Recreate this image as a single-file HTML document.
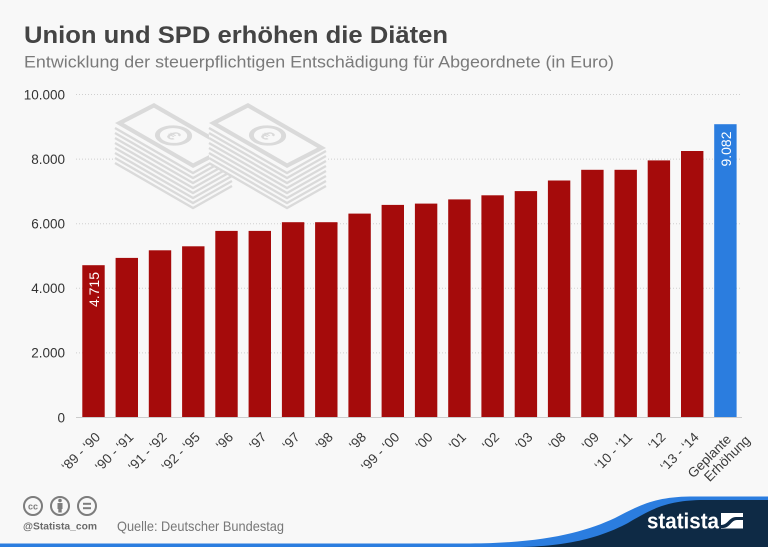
<!DOCTYPE html>
<html><head><meta charset="utf-8"><style>
html,body{margin:0;padding:0;background:#f8f8f8;}
svg{display:block;font-family:"Liberation Sans",sans-serif;}
</style></head><body>
<svg width="768" height="547" viewBox="0 0 768 547" xmlns="http://www.w3.org/2000/svg">
<rect width="768" height="547" fill="#f8f8f8"/>
<text x="24" y="43" font-size="24" font-weight="bold" fill="#444" textLength="424" lengthAdjust="spacingAndGlyphs">Union und SPD erhöhen die Diäten</text>
<text x="24" y="67.5" font-size="16.5" fill="#7a7a7a" textLength="590" lengthAdjust="spacingAndGlyphs">Entwicklung der steuerpflichtigen Entschädigung für Abgeordnete (in Euro)</text>

<g stroke="#cfcfcf" stroke-width="1" stroke-dasharray="1,2">
<line x1="76" y1="94.5" x2="742" y2="94.5"/>
<line x1="76" y1="159.1" x2="742" y2="159.1"/>
<line x1="76" y1="223.7" x2="742" y2="223.7"/>
<line x1="76" y1="288.3" x2="742" y2="288.3"/>
<line x1="76" y1="352.9" x2="742" y2="352.9"/>
</g>
<g font-size="13.5" fill="#333" text-anchor="end">
<text x="65" y="99.3">10.000</text>
<text x="65" y="163.9">8.000</text>
<text x="65" y="228.5">6.000</text>
<text x="65" y="293.1">4.000</text>
<text x="65" y="357.7">2.000</text>
<text x="65" y="422.3">0</text>
</g>

<!-- money stacks -->
<g id="stack1">
<polygon points="115,123 154,103 232,148 232,188 193,208 115,163" fill="#f8f8f8"/>
<g fill="none" stroke="#dadada" stroke-width="2.4">
<polyline points="115,128 193,173 232,151"/>
<polyline points="115,133 193,178 232,156"/>
<polyline points="115,138 193,183 232,161"/>
<polyline points="115,143 193,188 232,166"/>
<polyline points="115,148 193,193 232,171"/>
<polyline points="115,153 193,198 232,176"/>
<polyline points="115,158 193,203 232,181"/>
<polyline points="115,163 193,208 232,186"/>
</g>
<g transform="matrix(0.867,0.5,-0.886,0.4545,154,103)">
<rect x="0" y="0" width="90" height="44" fill="#dadada"/>
<rect x="5" y="5" width="80" height="34" fill="#f8f8f8"/>
<circle cx="45" cy="22" r="13" fill="#f8f8f8" stroke="#dadada" stroke-width="4"/>
<text x="45" y="28" font-size="17" font-weight="bold" fill="#dadada" text-anchor="middle">€</text>
</g>
</g>
<g transform="translate(94,0)">
<polygon points="115,123 154,103 232,148 232,188 193,208 115,163" fill="#f8f8f8"/>
<g fill="none" stroke="#dadada" stroke-width="2.4">
<polyline points="115,128 193,173 232,151"/>
<polyline points="115,133 193,178 232,156"/>
<polyline points="115,138 193,183 232,161"/>
<polyline points="115,143 193,188 232,166"/>
<polyline points="115,148 193,193 232,171"/>
<polyline points="115,153 193,198 232,176"/>
<polyline points="115,158 193,203 232,181"/>
<polyline points="115,163 193,208 232,186"/>
</g>
<g transform="matrix(0.867,0.5,-0.886,0.4545,154,103)">
<rect x="0" y="0" width="90" height="44" fill="#dadada"/>
<rect x="5" y="5" width="80" height="34" fill="#f8f8f8"/>
<circle cx="45" cy="22" r="13" fill="#f8f8f8" stroke="#dadada" stroke-width="4"/>
<text x="45" y="28" font-size="17" font-weight="bold" fill="#dadada" text-anchor="middle">€</text>
</g>
</g>

<!-- bars -->
<g fill="#a50b0b">
<rect x="82.3" y="265.2" width="22.4" height="152.3"/>
<rect x="115.6" y="257.9" width="22.4" height="159.6"/>
<rect x="148.8" y="250.3" width="22.4" height="167.2"/>
<rect x="182.1" y="246.3" width="22.4" height="171.2"/>
<rect x="215.3" y="230.9" width="22.4" height="186.6"/>
<rect x="248.6" y="230.9" width="22.4" height="186.6"/>
<rect x="281.9" y="222.2" width="22.4" height="195.3"/>
<rect x="315.1" y="222.2" width="22.4" height="195.3"/>
<rect x="348.4" y="213.6" width="22.4" height="203.9"/>
<rect x="381.6" y="204.9" width="22.4" height="212.6"/>
<rect x="414.9" y="203.6" width="22.4" height="213.9"/>
<rect x="448.2" y="199.4" width="22.4" height="218.1"/>
<rect x="481.4" y="195.3" width="22.4" height="222.2"/>
<rect x="514.7" y="191.1" width="22.4" height="226.4"/>
<rect x="547.9" y="180.5" width="22.4" height="237.0"/>
<rect x="581.2" y="169.8" width="22.4" height="247.7"/>
<rect x="614.5" y="169.8" width="22.4" height="247.7"/>
<rect x="647.7" y="160.4" width="22.4" height="257.1"/>
<rect x="681.0" y="151.0" width="22.4" height="266.5"/>
</g>
<rect x="714.2" y="124.2" width="22.4" height="293.3" fill="#2b7ddf"/>
<line x1="76" y1="417.5" x2="742" y2="417.5" stroke="#cccccc" stroke-width="1"/>

<text transform="translate(99,272) rotate(-90)" font-size="14" fill="#fff" text-anchor="end">4.715</text>
<text transform="translate(731,131.5) rotate(-90)" font-size="14" fill="#fff" text-anchor="end">9.082</text>

<!-- x labels -->
<g font-size="13.5" fill="#3a3a3a" text-anchor="end">
<text transform="translate(101,438) rotate(-45)">‘89 - ‘90</text>
<text transform="translate(134.3,438) rotate(-45)">‘90 - ‘91</text>
<text transform="translate(167.5,438) rotate(-45)">‘91 - ‘92</text>
<text transform="translate(200.8,438) rotate(-45)">‘92 - ‘95</text>
<text transform="translate(234,438) rotate(-45)">‘96</text>
<text transform="translate(267.3,438) rotate(-45)">‘97</text>
<text transform="translate(300.6,438) rotate(-45)">‘97</text>
<text transform="translate(333.8,438) rotate(-45)">‘98</text>
<text transform="translate(367.1,438) rotate(-45)">‘98</text>
<text transform="translate(400.3,438) rotate(-45)">‘99 - ‘00</text>
<text transform="translate(433.6,438) rotate(-45)">‘00</text>
<text transform="translate(466.9,438) rotate(-45)">‘01</text>
<text transform="translate(500.1,438) rotate(-45)">‘02</text>
<text transform="translate(533.4,438) rotate(-45)">‘03</text>
<text transform="translate(566.6,438) rotate(-45)">‘08</text>
<text transform="translate(599.9,438) rotate(-45)">‘09</text>
<text transform="translate(633.2,438) rotate(-45)">‘10 - ‘11</text>
<text transform="translate(666.4,438) rotate(-45)">‘12</text>
<text transform="translate(699.7,438) rotate(-45)">‘13 - ‘14</text>
<text transform="translate(732,440) rotate(-45)">Geplante</text>
<text transform="translate(751,441) rotate(-45)">Erhöhung</text>
</g>

<!-- footer -->
<g fill="none" stroke="#7d7d7d" stroke-width="2">
<circle cx="33" cy="506" r="9"/>
<circle cx="60" cy="506" r="9"/>
<circle cx="87" cy="506" r="9"/>
</g>
<text x="33" y="509.5" font-size="9" font-weight="bold" fill="#7d7d7d" text-anchor="middle">cc</text>
<circle cx="60" cy="500.5" r="1.8" fill="#7d7d7d"/>
<rect x="57.5" y="503" width="5" height="6" fill="#7d7d7d"/>
<rect x="58.3" y="508" width="3.4" height="4.5" fill="#7d7d7d"/>
<rect x="83" y="502.8" width="8" height="2" fill="#7d7d7d"/>
<rect x="83" y="507.2" width="8" height="2" fill="#7d7d7d"/>
<text x="23" y="529.5" font-size="10.5" font-weight="bold" fill="#6a6a6a" textLength="74" lengthAdjust="spacingAndGlyphs">@Statista_com</text>
<text x="117" y="531" font-size="14" fill="#777" textLength="167" lengthAdjust="spacingAndGlyphs">Quelle: Deutscher Bundestag</text>

<!-- statista wave -->
<path d="M0,543.5 L470,543.5 C545,543 585,532 615,518 C640,505 655,497 690,496.5 L768,496.5 L768,547 L0,547 Z" fill="#2b7ddf"/>
<path d="M520,547 C575,546 605,535 628,523 C650,510 665,501 700,500 L768,500 L768,547 Z" fill="#0e2a45"/>
<text x="647" y="528.5" font-size="22" font-weight="bold" fill="#fff" textLength="72" lengthAdjust="spacingAndGlyphs">statista</text>
<rect x="721" y="513" width="22" height="15.5" fill="#fff"/>
<path d="M721,525 C728,525 729,517 736,517 L743,517 L743,520 L737,520 C731,520 730,528 723,528 L721,528 Z" fill="#0e2a45"/>
</svg>
</body></html>
